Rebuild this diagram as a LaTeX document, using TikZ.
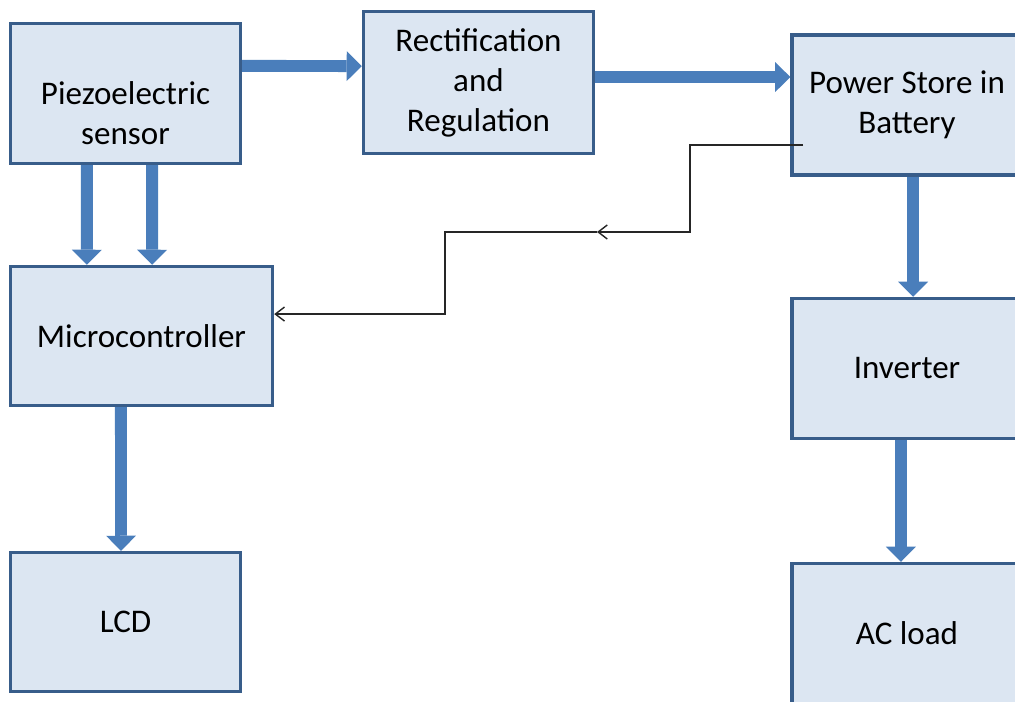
\documentclass[tikz,border=0pt]{standalone}
\usepackage{fontspec}
\setmainfont{Carlito}
\usetikzlibrary{arrows.meta}
\definecolor{boxfill}{HTML}{DCE6F2}
\definecolor{boxline}{HTML}{385D8A}
\definecolor{flowblue}{HTML}{4A7EBB}

\begin{document}
\begin{tikzpicture}[x=0.025cm,y=-0.025cm,font=\fontsize{23.5}{28.5}\selectfont,
    blk/.style={draw=boxline,fill=boxfill,line width=2.4pt,minimum width=5.75cm,
      minimum height=3.5cm,align=center,inner sep=0pt},
    flow/.style={-{Triangle[length=10.7pt,width=21.3pt,line width=0pt]},
      line width=8.5pt,flowblue},
    sig/.style={-{Straight Barb[length=6.5pt,width=10pt]},line width=1pt,black!85}]
  \clip (0,0) rectangle (1015,702);
  % blocks
  \node[blk] (piezo) at (125.5,93.5) {};
  \node[align=center] (piezotxt) at (125.5,113.5) {Piezoelectric\\sensor};
  \node[blk,minimum height=3.55cm] (rect) at (478.5,82.5) {Rectification\\and\\Regulation};
  \node[blk] (power) at (907,105) {Power Store in\\Battery};
  \node[blk,minimum width=6.55cm,minimum height=3.475cm] (micro) at (141.5,336) {Microcontroller};
  \node[blk,minimum height=3.475cm] (lcd) at (125.5,622) {LCD};
  \node[blk] (inv) at (907,368.5) {Inverter};
  \node[blk] (ac) at (907,633.5) {AC load};
  % power flow
  \draw[flow] ([yshift=19.6pt]piezo.east) -- ([yshift=11.7pt]rect.west);
  \draw[flow] ([yshift=3.9pt]rect.east) -- ([yshift=19.9pt]power.west);
  \draw[flow] ([xshift=-27.4pt]piezo.south) -- ([xshift=-38.8pt]micro.north);
  \draw[flow] ([xshift=18.9pt]piezo.south) -- ([xshift=7.5pt]micro.north);
  \draw[flow] ([xshift=-14.6pt]micro.south) -- ([xshift=-3.2pt]lcd.north);
  \draw[flow] ([xshift=4.3pt]power.south) -- ([xshift=4.3pt]inv.north);
  \draw[flow] ([xshift=-4.3pt]inv.south) -- ([xshift=-4.3pt]ac.north);
  % feedback to the controller
  \coordinate (tap) at (803,145);
  \coordinate (mid) at (597,232);
  \draw[sig] (tap) -- (690,145) |- (mid);
  \draw[sig] (mid) -- (445,232) |- ([yshift=15.6pt]micro.east);
\end{tikzpicture}
\end{document}
